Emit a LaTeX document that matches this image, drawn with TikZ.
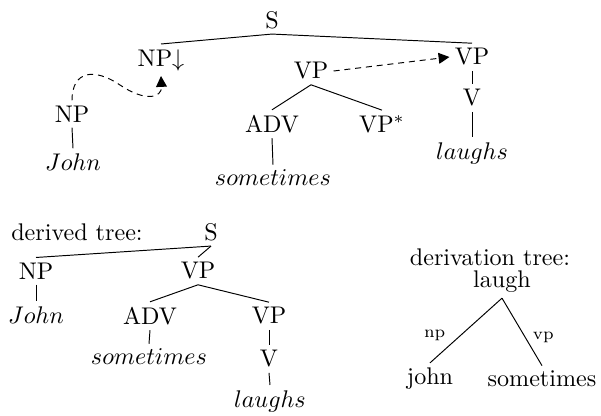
\documentclass[tikz,border=0pt]{standalone}
\usetikzlibrary{arrows.meta}

\begin{document}
\begin{tikzpicture}[x=0.415pt, y=-0.415pt, every node/.style={inner sep=2pt},
	lab/.style={font=\scriptsize},
	subst/.style={dash pattern=on 2.5pt off 2pt, -{Triangle[length=4.5pt, width=4.5pt]}}]
	\useasboundingbox (0,0) rectangle (601,415);

	\node (s) at (272,20) {S};
	\node (npsub) at (161,60) {NP$\downarrow$};
	\node (vpr) at (472,57) {VP};
	\node (vr) at (472,98) {V};
	\node (laughs) at (472,153) {$laughs$};
	\node (vpm) at (311,71) {VP};
	\node (adv) at (272,124) {ADV};
	\node (vpstar) at (382,124) {VP$^*$};
	\node (sometimes) at (273,178) {$sometimes$};
	\node (npl) at (72,114) {NP};
	\node (john) at (73,162) {$John$};

	\draw (s.south) -- (npsub.north);
	\draw (s.south) -- (vpr.north);
	\draw (vpr.south) -- (vr.north);
	\draw (vr.south) -- (laughs.north);
	\draw (vpm.south) -- (adv.north);
	\draw (vpm.south) -- (vpstar.north);
	\draw (adv.south) -- (sometimes.north);
	\draw (npl.south) -- (john.north);
	\draw[subst] (vpm.east) -- (vpr.west);
	\draw[subst] (npl.north) .. controls (72,70) and (95,68) .. (120,85) .. controls (145,102) and (162,98) .. (npsub.south);

	\node (dtitle) at (77,232) {derived tree:};
	\node (ds) at (211,232) {S};
	\node (dnp) at (36,271) {NP};
	\node (djohn) at (36,315) {$John$};
	\node (dvp) at (198,271) {VP};
	\node (dadv) at (150,316) {ADV};
	\node (dsometimes) at (149,357) {$sometimes$};
	\node (dvp2) at (269,316) {VP};
	\node (dv) at (269,359) {V};
	\node (dlaughs) at (270,401) {$laughs$};

	\draw (ds.south) -- (dnp.north);
	\draw (ds.south) -- (dvp.north);
	\draw (dnp.south) -- (djohn.north);
	\draw (dvp.south) -- (dadv.north);
	\draw (dvp.south) -- (dvp2.north);
	\draw (dadv.south) -- (dsometimes.north);
	\draw (dvp2.south) -- (dv.north);
	\draw (dv.south) -- (dlaughs.north);

	\node (ttitle) at (490,257) {derivation tree:};
	\node (laugh) at (502,282) {laugh};
	\node (tjohn) at (430,379) {john};
	\node (tsometimes) at (542,379) {sometimes};

	\draw (laugh.south) -- node[lab, pos=0.58, left=4pt] {np} (tjohn.north);
	\draw (laugh.south) -- node[lab, pos=0.58, right=1pt] {vp} (tsometimes.north);
\end{tikzpicture}
\end{document}
